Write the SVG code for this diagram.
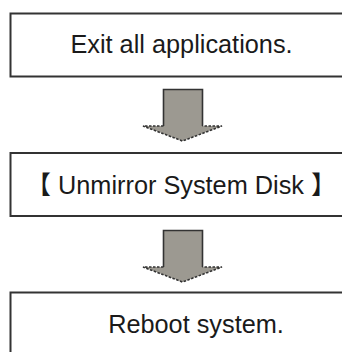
<svg xmlns="http://www.w3.org/2000/svg" width="342" height="352" viewBox="0 0 342 352">
<style>
.box{fill:#fff;stroke:#333;stroke-width:2}
.lbl{font-family:"Liberation Sans",Arial,"Noto Sans CJK JP",sans-serif;font-size:25.3px;fill:#1a1a1a;text-anchor:middle}
.afill{fill:#9c9991;stroke:none}
.ashaft{fill:none;stroke:#333;stroke-width:1.6}
.ahead{fill:none;stroke:#333;stroke-width:1.6;stroke-dasharray:2.5 1.5}
</style>
<rect width="342" height="352" fill="#fff"/>
<g id="connectors">
  <g id="arrow1">
    <polygon class="afill" points="163.5,89.5 202.5,89.5 202.5,126 222,126 182.5,141 143,126 163.5,126"/>
    <path class="ashaft" d="M163.5,126 V89.5 H202.5 V126"/>
    <path class="ahead" d="M163.5,126 H143 L182.5,141 L222,126 H202.5"/>
  </g>
  <g id="arrow2">
    <polygon class="afill" points="163.5,230.5 202.5,230.5 202.5,267 222,267 182.5,282 143,267 163.5,267"/>
    <path class="ashaft" d="M163.5,267 V230.5 H202.5 V267"/>
    <path class="ahead" d="M163.5,267 H143 L182.5,282 L222,267 H202.5"/>
  </g>
</g>
<g id="node1">
  <rect class="box" x="10.5" y="13.5" width="340" height="63"/>
  <text class="lbl" x="181.5" y="52.5">Exit all applications.</text>
</g>
<g id="node2">
  <rect class="box" x="10.5" y="153" width="340" height="63"/>
  <text class="lbl" x="181" y="194">【 Unmirror System Disk 】</text>
</g>
<g id="node3">
  <rect class="box" x="10.5" y="292.5" width="340" height="70"/>
  <text class="lbl" x="196" y="333">Reboot system.</text>
</g>
</svg>
